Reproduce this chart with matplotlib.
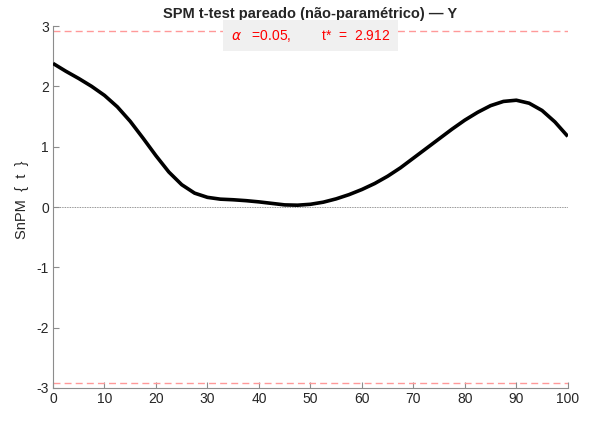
import matplotlib
matplotlib.use('Agg')
import matplotlib.pyplot as plt
import matplotlib.transforms as mtransforms

# SnPM t statistic along the normalised cycle (0-100 %)
node = [0, 2.5, 5, 7.5, 10, 12.5, 15, 17.5, 20, 22.5, 25, 27.5, 30, 32.5,
        35, 37.5, 40, 42.5, 45, 47.5, 50, 52.5, 55, 57.5, 60, 62.5, 65,
        67.5, 70, 72.5, 75, 77.5, 80, 82.5, 85, 87.5, 90, 92.5, 95, 97.5, 100]
t_stat = [2.38, 2.25, 2.13, 2.00, 1.85, 1.66, 1.42, 1.14, 0.85, 0.58, 0.37,
          0.23, 0.16, 0.13, 0.12, 0.105, 0.085, 0.06, 0.035, 0.03, 0.045,
          0.08, 0.135, 0.205, 0.29, 0.39, 0.51, 0.65, 0.81, 0.97, 1.13,
          1.29, 1.44, 1.57, 1.68, 1.75, 1.77, 1.72, 1.60, 1.41, 1.17]
alpha = 0.05
t_crit = 2.912

xticks = [0, 10, 20, 30, 40, 50, 60, 70, 80, 90, 100]
yticks = [-3, -2, -1, 0, 1, 2, 3]

plt.rcParams['font.family'] = ['Liberation Sans', 'DejaVu Sans']
plt.rcParams['mathtext.fontset'] = 'dejavusans'
plt.rcParams['axes.unicode_minus'] = False

axis_grey = '#8c8c8c'
text_grey = '#262626'

fig = plt.figure(figsize=(5.89, 4.30), dpi=100)
ax = fig.add_axes([0.090, 0.0977, 0.874, 0.8418])

ax.plot(node, t_stat, color='black', lw=2.6, solid_joinstyle='round',
        solid_capstyle='butt', zorder=3)

# critical thresholds and zero reference
ax.axhline(t_crit, color='#ff9999', ls=(0, (5, 3)), lw=1.0, zorder=2)
ax.axhline(-t_crit, color='#ff9999', ls=(0, (5, 3)), lw=1.0, zorder=2)
ax.axhline(0, color='#707070', ls=(0, (1, 1)), lw=0.6, zorder=1)

trans = mtransforms.blended_transform_factory(ax.transAxes, ax.transData)
ax.text(0.5, 2.84, r'$\alpha$   =%.2f,        t*  =  %.3f' % (alpha, t_crit),
        transform=trans, ha='center', va='center', color='red', fontsize=10,
        bbox=dict(boxstyle='square,pad=0.55', facecolor='#f0f0f0',
                  edgecolor='none'), zorder=4)

ax.set_xlim(0, 100)
ax.set_ylim(-3, 3)
ax.set_xticks(xticks)
ax.set_yticks(yticks)
ax.tick_params(direction='in', length=4, width=0.8, color=axis_grey,
               labelcolor=text_grey, labelsize=10, pad=3)

for side in ['top', 'right']:
    ax.spines[side].set_visible(False)
for side in ['left', 'bottom']:
    ax.spines[side].set_color(axis_grey)
    ax.spines[side].set_linewidth(0.8)

ax.set_ylabel('SnPM  {  t  }', fontsize=10.5, color=text_grey)
ax.yaxis.set_label_coords(-0.046, 0.52)
ax.set_title('SPM t-test pareado (não-paramétrico) — Y', fontsize=10.5,
             fontweight='bold', color=text_grey, pad=6)

fig.savefig('out.png', dpi=100)
